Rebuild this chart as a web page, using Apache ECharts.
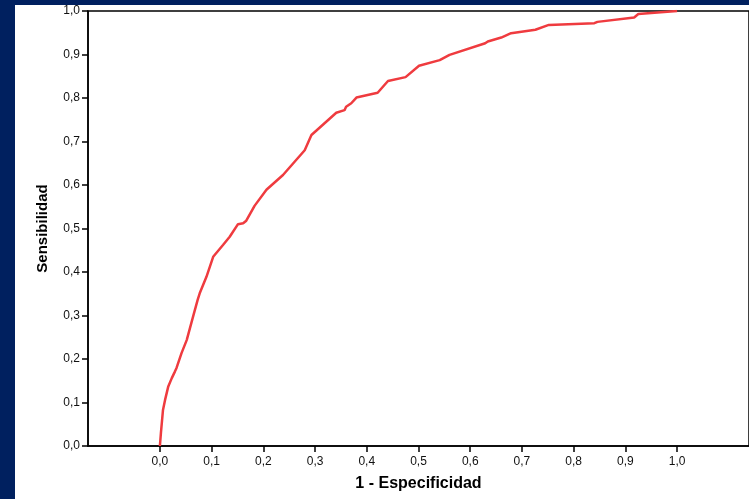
<!DOCTYPE html>
<html lang="es">
<head>
  <meta charset="UTF-8">
  <title>Curva COR</title>
  <script src="https://cdn.jsdelivr.net/npm/echarts/dist/echarts.min.js"></script>
  <style>
    html, body { margin: 0; padding: 0; background: #00205f; }
    #chart { position: absolute; left: 15px; top: 5px; width: 734px; height: 494px; background: #fff; }
  </style>
</head>
<body>
<div id="chart"></div>
<script>
// 1 - especificidad (x) y sensibilidad (y)
const fpr = [0.000, 0.002, 0.006, 0.010, 0.016, 0.023, 0.029, 0.032, 0.042, 0.052, 0.064, 0.073,
  0.077, 0.090, 0.103, 0.122, 0.135, 0.151, 0.161, 0.167, 0.183, 0.206, 0.238, 0.280,
  0.293, 0.341, 0.357, 0.360, 0.370, 0.380, 0.421, 0.441, 0.475, 0.501, 0.541,
  0.560, 0.629, 0.634, 0.660, 0.679, 0.726, 0.752, 0.840, 0.846, 0.917, 0.925, 1.000];
const tpr = [0.000, 0.030, 0.083, 0.106, 0.136, 0.156, 0.171, 0.179, 0.214, 0.244, 0.297, 0.336,
  0.351, 0.389, 0.435, 0.462, 0.481, 0.510, 0.512, 0.518, 0.552, 0.589, 0.623, 0.680,
  0.715, 0.766, 0.772, 0.780, 0.788, 0.801, 0.812, 0.839, 0.848, 0.874, 0.887,
  0.899, 0.926, 0.930, 0.939, 0.949, 0.957, 0.968, 0.972, 0.975, 0.985, 0.993, 1.000];
const xTicks = [0, 0.1, 0.2, 0.3, 0.4, 0.5, 0.6, 0.7, 0.8, 0.9, 1.0];

const fmt = v => v.toFixed(1).replace('.', ',');
const chart = echarts.init(document.getElementById('chart'));
chart.setOption({
  animation: false,
  textStyle: { fontFamily: 'Liberation Sans, Arial, sans-serif' },
  grid: { left: 73, top: 6, right: -1, bottom: 53, show: true, borderColor: '#000', borderWidth: 1.5 },
  xAxis: {
    type: 'value', min: -0.139, max: 1.139,
    name: '1 - Especificidad', nameLocation: 'middle', nameGap: 30,
    nameTextStyle: { fontWeight: 'bold', fontSize: 16, color: '#000' },
    axisLine: { onZero: false, lineStyle: { color: '#000', width: 1.5 } },
    axisTick: { customValues: xTicks, length: 6, lineStyle: { color: '#000', width: 1.5 } },
    axisLabel: { customValues: xTicks, formatter: fmt, color: '#111', fontSize: 12, margin: 10 },
    splitLine: { show: false }
  },
  yAxis: {
    type: 'value', min: 0, max: 1, interval: 0.1,
    name: 'Sensibilidad', nameLocation: 'middle', nameGap: 38, nameRotate: 90,
    nameTextStyle: { fontWeight: 'bold', fontSize: 15, color: '#000' },
    axisLine: { show: true, onZero: false, lineStyle: { color: '#000', width: 1.5 } },
    axisTick: { show: true, length: 6, lineStyle: { color: '#000', width: 1.5 } },
    axisLabel: { formatter: fmt, color: '#111', fontSize: 12, margin: 8 },
    splitLine: { show: false }
  },
  series: [{
    type: 'line',
    data: fpr.map((x, i) => [x, tpr[i]]),
    showSymbol: false,
    lineStyle: { color: '#ef3b3f', width: 2.5 }
  }]
});
</script>
</body>
</html>
